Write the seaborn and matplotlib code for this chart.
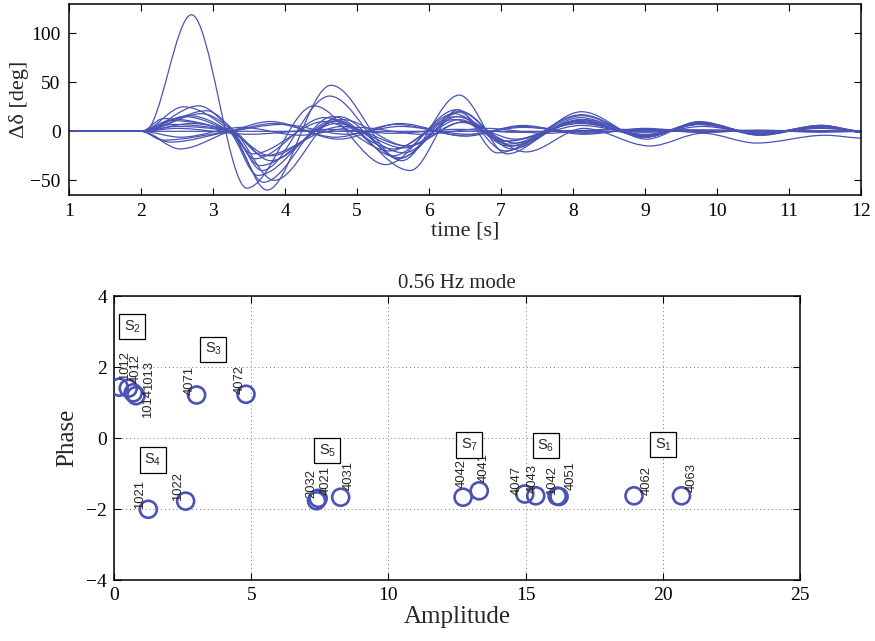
import numpy as np
import pandas as pd
import matplotlib
matplotlib.use("Agg")
import matplotlib.pyplot as plt
from matplotlib.path import Path
from matplotlib.patches import PathPatch
import seaborn as sns

# ---------------- rotor angle deviations: (time [s], delta [deg]) turning points ----------------
swing_a = [(2.05, 0), (2.70, 119), (3.47, -58), (4.40, 26), (5.40, -34), (6.38, 22), (7.15, -15),
           (8.10, 12), (9.00, -6), (9.75, 8), (10.60, -4), (11.45, 5), (12.0, -1)]
swing_b = [(2.0, 0), (2.80, 26), (3.26, 0), (3.75, -60), (4.64, 47), (5.62, -30), (6.42, 37),
           (7.08, -23), (8.12, 20), (9.02, -8), (9.75, 10), (10.60, -4), (11.45, 6), (12.0, -1)]
swing_c = [(2.0, 0), (2.59, 25), (3.24, 0), (3.70, -52), (4.66, 15), (5.74, -40), (6.40, 22),
           (6.95, -22), (8.12, 17), (9.00, -6), (9.75, 9), (10.60, -3), (11.45, 6), (12.0, 0)]
swing_d = [(2.0, 0), (2.91, 21), (3.30, 0), (3.85, -50), (4.75, 15), (5.60, -27), (6.45, 20),
           (7.15, -18), (8.10, 14), (9.00, -5), (9.78, 9), (10.60, -3), (11.45, 5), (12.0, -1)]
swing_e = [(2.0, 0), (2.66, 16), (3.22, 0), (3.62, -45), (4.70, 12), (5.50, -25), (6.35, 18),
           (7.10, -15), (8.15, 12), (9.00, -4), (9.75, 8), (10.60, -2), (11.45, 5), (12.0, 0)]
swing_f = [(2.0, 0), (2.31, 13), (3.22, 0), (3.55, -23), (4.55, 10), (5.45, -20), (6.38, 15),
           (7.20, -12), (8.10, 10), (9.00, -5), (9.80, 8), (10.60, -3), (11.50, 5), (12.0, -1)]
swing_g = [(2.0, 0), (2.40, 11), (3.24, 0), (3.65, -35), (4.72, 8), (5.65, -17), (6.42, 12),
           (7.05, -10), (8.10, 8), (9.05, -4), (9.75, 7), (10.60, -2), (11.45, 4), (12.0, 0)]
swing_h = [(2.0, 0), (2.54, -18), (3.24, 0), (3.80, 10), (4.75, -8), (5.60, 8), (6.50, -5),
           (7.30, 6), (8.15, -3), (9.00, 3), (9.80, -1), (10.60, 1), (11.45, -1), (12.0, 0)]
swing_i = [(2.0, 0), (2.40, -11), (3.24, 0), (3.85, 8), (4.70, -6), (5.55, 7), (6.45, -4),
           (7.30, 5), (8.15, -2), (9.00, 2), (9.75, -1), (10.60, 1), (12.0, 0)]
swing_j = [(2.0, 0), (2.60, 15), (3.24, 0), (3.80, -25), (4.80, 12), (5.70, -15), (6.50, 10),
           (7.35, -21), (8.15, 3), (9.07, -15), (9.80, -2), (10.55, -12), (11.50, -4), (12.0, -7)]
swing_k = [(2.0, 0), (2.50, 3), (3.50, -3), (4.60, 2), (5.50, -2), (6.40, 2), (7.20, -1),
           (8.10, 1), (9.00, -1), (9.80, 1), (12.0, 0)]
swing_l = [(2.0, 0), (2.30, -9), (3.24, 0), (3.95, 7), (4.85, -3), (5.60, 5), (6.55, -3),
           (7.30, 4), (8.20, -1), (9.00, 1), (12.0, 0)]
swing_m = [(2.0, 0), (12.0, 0)]
swing_n = [(2.0, 0), (2.85, 18), (3.30, 0), (3.80, -30), (4.70, 10), (5.65, -22), (6.40, 15),
           (7.10, -13), (8.10, 11), (9.00, -5), (9.75, 8), (10.60, -2), (11.45, 5), (12.0, -1)]
swing_o = [(2.0, 0), (2.70, 8), (3.26, 0), (3.70, -25), (4.80, 5), (5.70, -15), (6.45, 9),
           (7.20, -8), (8.12, 6), (9.00, -3), (9.80, 5), (10.60, -2), (11.45, 3), (12.0, 0)]
swing_p = [(2.0, 0), (2.50, 5), (3.24, 0), (3.68, -40), (4.62, 36), (5.58, -28), (6.40, 20),
           (7.05, -20), (8.12, 16), (9.00, -6), (9.75, 9), (10.60, -3), (11.45, 6), (12.0, -1)]
swing_q = [(2.0, 0), (2.45, 7), (3.24, 0), (3.58, -28), (4.55, 14), (5.50, -18), (6.35, 12),
           (7.10, -10), (8.10, 9), (9.00, -4), (9.75, 7), (10.60, -2), (11.45, 4), (12.0, 0)]
swing_r = [(2.0, 0), (2.55, -6), (3.40, 4), (4.20, -4), (5.00, 4), (5.90, -3), (6.80, 3),
           (7.60, -2), (8.50, 2), (12.0, 0)]

swings = [swing_a, swing_b, swing_c, swing_d, swing_e, swing_f, swing_g, swing_h, swing_i,
          swing_j, swing_k, swing_l, swing_m, swing_n, swing_o, swing_p, swing_q, swing_r]

# ---------------- 0.56 Hz mode shape: generator, amplitude, phase ----------------
gen_ids = ["1012", "4012", "1013", "1014", "4071", "4072", "1021", "1022", "2032", "4021",
           "4031", "4042", "4041", "4047", "4043", "1042", "4051", "4062", "4063"]
gen_amp = [0.19, 0.52, 0.70, 0.80, 3.01, 4.81, 1.25, 2.61, 7.38, 7.44,
           8.26, 12.72, 13.31, 14.97, 15.37, 16.15, 16.22, 18.95, 20.68]
gen_phase = [1.44, 1.41, 1.28, 1.20, 1.22, 1.24, -2.00, -1.77, -1.76, -1.69,
             -1.66, -1.66, -1.48, -1.57, -1.62, -1.63, -1.64, -1.62, -1.62]

group_names = ["S$_{2}$", "S$_{3}$", "S$_{4}$", "S$_{5}$", "S$_{7}$", "S$_{6}$", "S$_{1}$"]
group_amp = [0.67, 3.62, 1.41, 7.77, 12.94, 15.73, 20.01]
group_phase = [3.15, 2.51, -0.61, -0.35, -0.19, -0.21, -0.17]

# label placement relative to each circle (amplitude, phase units)
tag_shift = {
    "1012": (0.21, 0.21), "4012": (0.28, 0.14), "1013": (0.58, 0.08), "1014": (0.44, -0.62),
    "4071": (-0.24, 0.0), "4072": (-0.22, 0.0), "1021": (-0.29, 0.0), "1022": (-0.29, 0.0),
    "2032": (-0.18, 0.08), "4021": (0.29, 0.09), "4031": (0.31, 0.21), "4042": (-0.06, 0.25),
    "4041": (0.17, 0.25), "4047": (-0.28, -0.03), "4043": (-0.13, 0.08), "1042": (-0.20, 0.03),
    "4051": (0.43, 0.17), "4062": (0.45, 0.02), "4063": (0.36, 0.11),
}

BLUE = "#4a53b3"

sns.set_style("ticks")
plt.rcParams.update({
    "font.family": ["Liberation Serif", "DejaVu Serif"],
    "mathtext.fontset": "custom",
    "mathtext.rm": "Liberation Sans",
    "mathtext.it": "Liberation Sans:italic",
    "xtick.direction": "in",
    "ytick.direction": "in",
    "xtick.top": True,
    "ytick.right": True,
    "xtick.major.size": 5,
    "ytick.major.size": 5,
    "xtick.major.width": 0.8,
    "ytick.major.width": 0.8,
    "axes.linewidth": 1.1,
    "axes.edgecolor": "black",
    "xtick.color": "black",
    "ytick.color": "black",
})


def swing_path(points, t_start=1.0):
    """Smooth shape-preserving cubic path through the turning points."""
    t = np.array([p[0] for p in points], dtype=float)
    v = np.array([p[1] for p in points], dtype=float)
    h = np.diff(t)
    d = np.diff(v) / h
    m = np.zeros_like(v)
    for k in range(1, len(v) - 1):
        if d[k - 1] * d[k] > 0:
            w1 = 2 * h[k] + h[k - 1]
            w2 = h[k] + 2 * h[k - 1]
            m[k] = (w1 + w2) / (w1 / d[k - 1] + w2 / d[k])
    if len(v) > 2:
        m[-1] = 0.5 * d[-1]
    verts = [(t_start, 0.0), (t[0], v[0])]
    codes = [Path.MOVETO, Path.LINETO]
    for k in range(len(h)):
        verts += [(t[k] + h[k] / 3, v[k] + m[k] * h[k] / 3),
                  (t[k + 1] - h[k] / 3, v[k + 1] - m[k + 1] * h[k] / 3),
                  (t[k + 1], v[k + 1])]
        codes += [Path.CURVE4] * 3
    return Path(verts, codes)


fig = plt.figure(figsize=(8.75, 6.41), dpi=100)

# ---------------- time response ----------------
ax1 = fig.add_axes([0.0789, 0.6958, 0.9051, 0.2980])
for pts in swings:
    ax1.add_patch(PathPatch(swing_path(pts), fill=False, edgecolor=BLUE, lw=0.9))
ax1.set_xlim(1, 12)
ax1.set_ylim(-65, 130)
ax1.set_xticks(range(1, 13))
ax1.set_yticks([-50, 0, 50, 100])
ax1.tick_params(labelsize=14, pad=6)
ax1.set_xlabel("time [s]", fontsize=16, labelpad=1)
ax1.set_ylabel("Δδ [deg]", fontsize=16, labelpad=1)

# ---------------- mode shape ----------------
ax2 = fig.add_axes([0.1303, 0.0947, 0.7840, 0.4431])
modes = pd.DataFrame({"Amplitude": gen_amp, "Phase": gen_phase, "gen": gen_ids})
sns.scatterplot(data=modes, x="Amplitude", y="Phase", ax=ax2, marker="o", s=150,
                facecolors="none", edgecolors=BLUE, linewidths=1.9, zorder=3)
for g, a, p in zip(gen_ids, gen_amp, gen_phase):
    dx, dy = tag_shift[g]
    ax2.text(a + dx, p + dy, g, rotation=90, rotation_mode="anchor", ha="left", va="center",
             fontsize=9.4, family="Liberation Sans", zorder=4)
for name, a, p in zip(group_names, group_amp, group_phase):
    ax2.text(a, p, name, ha="center", va="center", fontsize=10.5, family="Liberation Sans",
             bbox=dict(boxstyle="square,pad=0.3", fc="white", ec="black", lw=0.9), zorder=5)
ax2.set_xlim(0, 25)
ax2.set_ylim(-4, 4)
ax2.set_xticks([0, 5, 10, 15, 20, 25])
ax2.set_yticks([-4, -2, 0, 2, 4])
ax2.grid(True, linestyle=(0, (1, 3)), color="#777777", linewidth=0.7)
ax2.tick_params(labelsize=14, pad=5)
ax2.set_title("0.56 Hz mode", fontsize=15, pad=6)
ax2.set_xlabel("Amplitude", fontsize=18, labelpad=1)
ax2.set_ylabel("Phase", fontsize=18, labelpad=6)

fig.savefig("out.png", dpi=100)
